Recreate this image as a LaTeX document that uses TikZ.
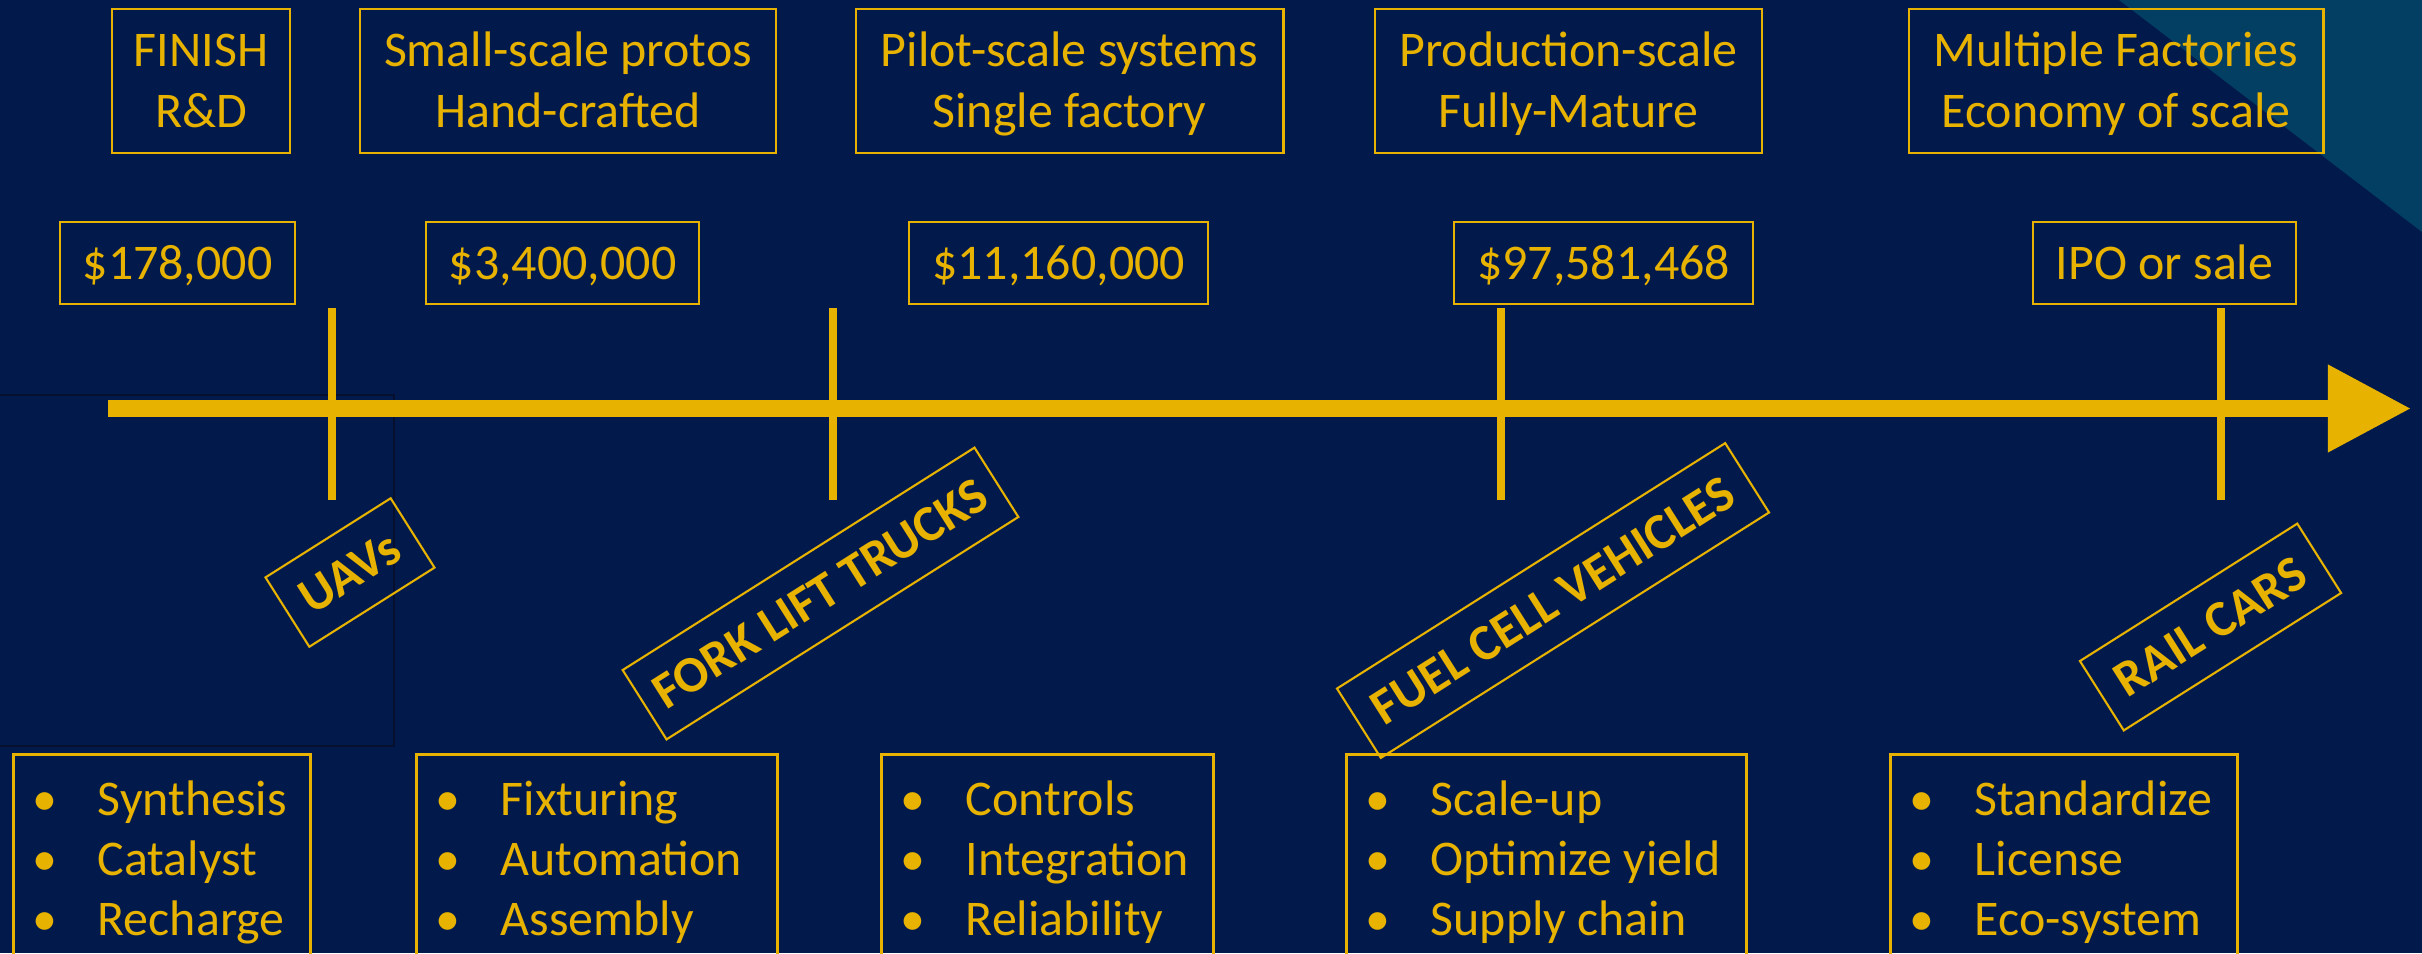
\documentclass[tikz,border=0pt]{standalone}
\usepackage{fontspec}
\setmainfont{Carlito}
\usetikzlibrary{arrows.meta}
\definecolor{bgnavy}{HTML}{011A4B}
\definecolor{cornerteal}{HTML}{033F63}
\definecolor{axisgold}{HTML}{E8B200}
\definecolor{edgedark}{HTML}{06102E}
\newcommand\twolines[2]{\vbox{\baselineskip=0.6cm\halign{\hfil##\hfil\cr#1\cr#2\cr}}}
\newcommand\bitem{\makebox[0.65cm][l]{•}}
\newcommand\threeitems[3]{\vbox{\baselineskip=0.6cm\halign{##\hfil\cr\bitem#1\cr\bitem#2\cr\bitem#3\cr}}}
\begin{document}
\begin{tikzpicture}[x=0.01cm,y=0.01cm,
  every node/.style={text=axisgold, inner sep=0pt, font=\fontsize{14.2pt}{17.07pt}\selectfont},
  stagebox/.style={draw=axisgold, line width=0.77pt, minimum height=1.44cm, text height=0.92cm, text depth=0cm},
  costbox/.style={draw=axisgold, line width=0.77pt, minimum height=0.82cm, text height=0.32cm, text depth=0cm},
  taskbox/.style={draw=axisgold, line width=0.77pt, minimum height=3cm, anchor=north west},
  tasktext/.style={anchor=north west, text height=1.52cm, text depth=0cm},
  marketbox/.style={draw=axisgold, line width=0.6pt, rotate=32.3, minimum height=0.82cm, text height=0.33cm, text depth=0cm, font=\fontsize{14.5pt}{17.4pt}\selectfont\bfseries},
  tickline/.style={draw=axisgold, line width=0.08cm},
]
\clip (0,0) rectangle (2422,953);
\fill[bgnavy] (0,0) rectangle (2422,953);
\fill[cornerteal] (2119,953) -- (2422,953) -- (2422,721) -- cycle;
\draw[edgedark, line width=0.02cm] (-10,207) rectangle (394,558);

% axis
\coordinate (axisstart) at (108,544.5);
\coordinate (axisend) at (2411,544.5);
\draw[axisgold, line width=0.17cm, -{Triangle[length=0.83cm,width=0.83cm]}] (axisstart) -- (axisend);

% ticks
\foreach \n/\x in {1/332,2/833,3/1501,4/2221}{
  \coordinate (ticktop\n) at (\x,645);
  \coordinate (tickbot\n) at (\x,453);
  \draw[tickline] (ticktop\n) -- (tickbot\n);
}

% stage boxes
\node[stagebox, minimum width=1.78cm] (t1) at (201,872) {\twolines{FINISH}{R\&D}};
\node[stagebox, minimum width=4.16cm] (t2) at (568,872) {\twolines{Small-scale protos}{Hand-crafted}};
\node[stagebox, minimum width=4.27cm] (t3) at (1069.5,872) {\twolines{Pilot-scale systems}{Single factory}};
\node[stagebox, minimum width=3.87cm] (t4) at (1568.5,872) {\twolines{Production-scale}{Fully-Mature}};
\node[stagebox, minimum width=4.14cm] (t5) at (2116,872) {\twolines{Multiple Factories}{Economy of scale}};

% cost boxes
\node[costbox, minimum width=2.35cm] (m1) at (177.5,690) {\$178,000};
\node[costbox, minimum width=2.73cm] (m2) at (562.5,690) {\$3,400,000};
\node[costbox, minimum width=2.99cm] (m3) at (1058.5,690) {\$11,160,000};
\node[costbox, minimum width=2.99cm] (m4) at (1603.5,690) {\$97,581,468};
\node[costbox, minimum width=2.63cm] (m5) at (2164.5,690) {IPO or sale};

% market labels
\node[marketbox, minimum width=1.48cm] (uav) at (350,380.5) {UAVs};
\node[marketbox, minimum width=4.16cm] (fork) at (820.5,359.5) {FORK LIFT TRUCKS};
\node[marketbox, minimum width=4.59cm] (fuel) at (1553,352.5) {FUEL CELL VEHICLES};
\node[marketbox, minimum width=2.57cm] (rail) at (2210.5,326) {RAIL CARS};

% task boxes
\node[taskbox, minimum width=2.97cm] (b1) at (12,200) {};
\node[tasktext] (b1text) at (32,170) {\threeitems{Synthesis}{Catalyst}{Recharge}};
\node[taskbox, minimum width=3.61cm] (b2) at (415,200) {};
\node[tasktext] (b2text) at (435,170) {\threeitems{Fixturing}{Automation}{Assembly}};
\node[taskbox, minimum width=3.32cm] (b3) at (880,200) {};
\node[tasktext] (b3text) at (900,170) {\threeitems{Controls}{Integration}{Reliability}};
\node[taskbox, minimum width=4.00cm] (b4) at (1345,200) {};
\node[tasktext] (b4text) at (1365,170) {\threeitems{Scale-up}{Optimize yield}{Supply chain}};
\node[taskbox, minimum width=3.47cm] (b5) at (1889,200) {};
\node[tasktext] (b5text) at (1909,170) {\threeitems{Standardize}{License}{Eco-system}};
\end{tikzpicture}
\end{document}
